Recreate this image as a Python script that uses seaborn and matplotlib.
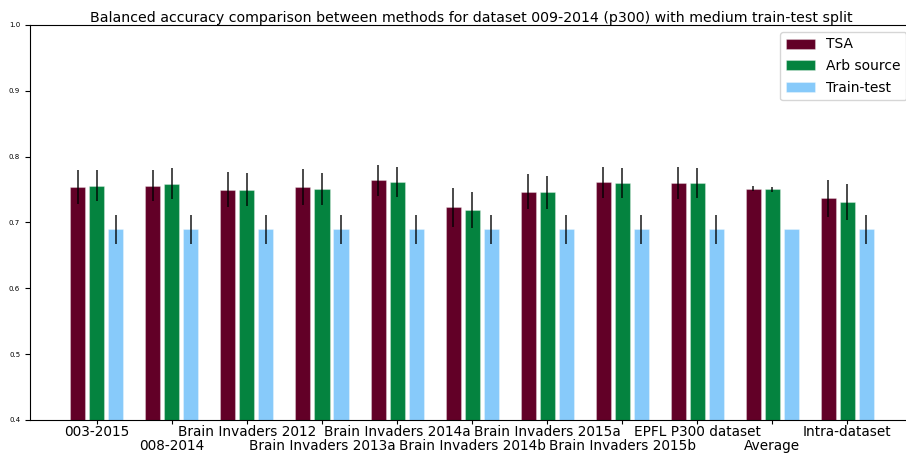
import matplotlib.pyplot as plt
import pandas as pd
import numpy as np
import seaborn as sns

datasets = ['003-2015', '008-2014', 'Brain Invaders 2012', 'Brain Invaders 2013a',
            'Brain Invaders 2014a', 'Brain Invaders 2014b', 'Brain Invaders 2015a',
            'Brain Invaders 2015b', 'EPFL P300 dataset', 'Average', 'Intra-dataset']
methods = ['TSA', 'Arb source', 'Train-test']

tsa = [0.754, 0.756, 0.750, 0.754, 0.764, 0.723, 0.747, 0.761, 0.760, 0.7515, 0.737]
tsa_err = [0.026, 0.023, 0.027, 0.027, 0.024, 0.030, 0.027, 0.024, 0.024, 0.0035, 0.028]
arb = [0.756, 0.759, 0.750, 0.751, 0.762, 0.719, 0.746, 0.760, 0.760, 0.7505, 0.731]
arb_err = [0.024, 0.023, 0.025, 0.024, 0.023, 0.027, 0.025, 0.023, 0.023, 0.004, 0.027]
tt = [0.69] * 11
tt_err = [0.022] * 9 + [0.0] + [0.022]

colors = ['#620027', '#04833F', '#87CAFA']

rows = []
for i, d in enumerate(datasets):
    rows.append((d, 'TSA', tsa[i], tsa_err[i]))
    rows.append((d, 'Arb source', arb[i], arb_err[i]))
    rows.append((d, 'Train-test', tt[i], tt_err[i]))
df = pd.DataFrame(rows, columns=['dataset', 'method', 'acc', 'err'])

fig = plt.figure(figsize=(9.06, 4.54), dpi=100)
ax = fig.add_axes([0.033, 0.075, 0.975, 0.87])

sns.barplot(data=df, x='dataset', y='acc', hue='method', hue_order=methods,
            palette=colors, saturation=1, width=0.76, gap=0.21, errorbar=None,
            linewidth=0.8, edgecolor=(1, 1, 1, 0.3), ax=ax)

# error bars on top of each bar
for k, m in enumerate(methods):
    sub = df[df['method'] == m]
    for i, (v, e) in enumerate(zip(sub['acc'], sub['err'])):
        if e > 0:
            ax.errorbar(i + (k - 1) * 0.2533, v, yerr=e, color='black', lw=1.1,
                        capsize=0, fmt='none', alpha=0.9)

ax.set_ylim(0.4, 1.0)
ax.set_xlim(-0.893, 10.88)
ax.set_yticks(np.arange(0.4, 1.01, 0.1))
ax.tick_params(axis='y', labelsize=5)
labels = [d if i % 2 == 0 else '\n' + d for i, d in enumerate(datasets)]
ax.set_xticks(range(len(datasets)))
ax.set_xticklabels(labels, fontsize=9.8, linespacing=1.05)
ax.tick_params(axis='x', pad=0.5, length=3)
ax.set_xlabel('')
ax.set_ylabel('')
ax.set_title('Balanced accuracy comparison between methods for dataset 009-2014 (p300) with medium train-test split',
             fontsize=10.2, pad=2)
ax.legend(loc='upper right', bbox_to_anchor=(1.008, 0.945), bbox_transform=fig.transFigure,
          fontsize=10, handlelength=2.1, handleheight=0.75, borderpad=0.4, labelspacing=0.55)

plt.savefig('out.png', dpi=100)
